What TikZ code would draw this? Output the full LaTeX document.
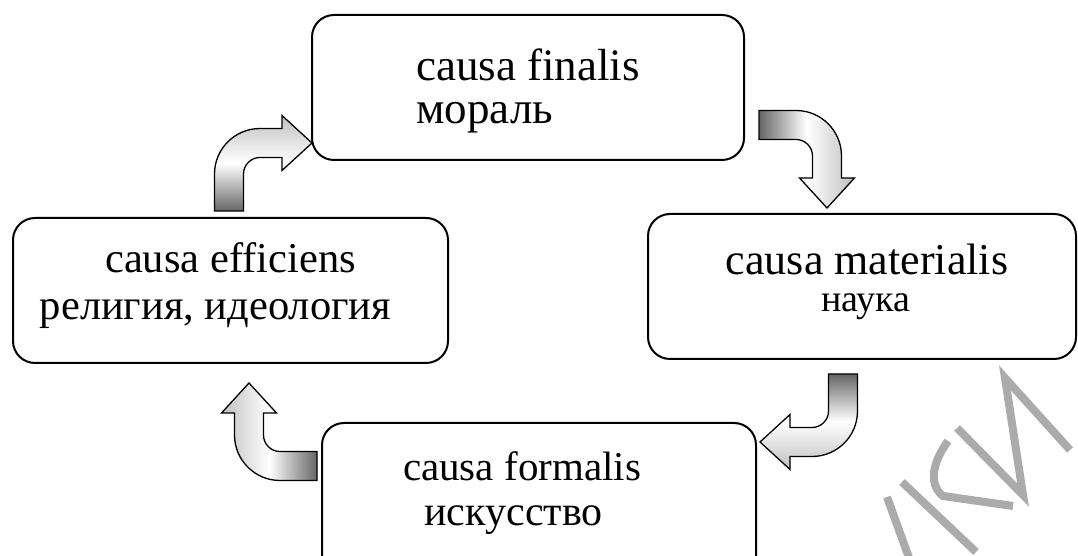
\documentclass[tikz,border=0pt]{standalone}
\usepackage{fontspec}
\setmainfont{Liberation Serif}
\usepackage{tikz}
\usetikzlibrary{positioning}
\definecolor{causeLine}{HTML}{000000}
\definecolor{markGray}{HTML}{ABABAB}
\tikzset{
    causebox/.style={
        draw=causeLine,
        fill=white,
        rectangle,
        rounded corners=22pt,
        align=center,
        minimum height=145pt,
        minimum width=432pt,
        line width=2pt,
        inner sep=0pt,
        font=\fontsize{44}{45}\selectfont
    },
    arrowline/.style={
        draw=causeLine,
        line width=1.3pt,
        top color=black!25,
        bottom color=black!60,
        middle color=white
    },
    arrowturn/.store in=\turnangle,
    arrowturn=0,
    markstroke/.style={
        draw=markGray,
        line width=8pt
    },
    pics/bentarrow/.style={code={
        \draw[arrowline, shading angle=\turnangle]
            (-14.5,0) -- (-14.5,37) arc[start angle=180, end angle=90, radius=45.5]
            -- (53,82.5) -- (53,95.5) -- (83,68) -- (53,40.5) -- (53,53.5)
            -- (31,53.5) arc[start angle=90, end angle=180, radius=16.5]
            -- (14.5,0) -- cycle;
    }}
}
\begin{document}
\begin{tikzpicture}[x=1pt, y=1pt]
    \useasboundingbox (0,0) rectangle (1078,556);
    \clip (0,0) rectangle (1078,556);

    % Causes
    \node[causebox, align=left, font=\fontsize{45}{43}\selectfont] (finalis) at (528,468.5)
        {\rule{0pt}{37.8pt}causa finalis\\мораль};
    \node[causebox, below=56pt of finalis, xshift=-297.5pt, minimum width=435pt, font=\fontsize{42.5}{47}\selectfont] (efficiens)
        {causa efficiens\\религия, идеология\hspace*{30pt}\rule[-18pt]{0pt}{18pt}};
    \node[causebox, below=52pt of finalis, xshift=334pt, minimum width=428pt, font=\fontsize{44}{37}\selectfont] (materialis)
        {\hspace*{10pt}causa materialis\\\hspace*{8pt}{\fontsize{38}{37}\selectfont наука}\rule[-17pt]{0pt}{17pt}};
    \node[causebox, below=62pt of materialis, xshift=-323pt, minimum height=160pt, minimum width=434pt, font=\fontsize{41}{45}\selectfont] (formalis)
        {causa formalis\hspace*{34pt}\\{\fontsize{42}{45}\selectfont искусство}\hspace*{51pt}\rule[-29pt]{0pt}{29pt}};

    % Cycle arrows
    \pic[arrowturn=0] at ([shift={(-1.5,6)}]efficiens.north) {bentarrow};
    \pic[rotate=-90, arrowturn=-90] at ([shift={(14,-37.5)}]finalis.east) {bentarrow};
    \pic[rotate=180, arrowturn=180] at ([shift={(-19,-14)}]materialis.south) {bentarrow};
    \pic[rotate=90, arrowturn=90] at ([shift={(-4,37)}]formalis.west) {bentarrow};

    % Watermark
    \draw[markstroke] (887,59) -- (912,-10);
    \draw[markstroke] (902,74) -- (976,4);
    \draw[markstroke] (948,115) .. controls (930,90) and (930,70) .. (943,60) -- (1013,50);
    \draw[markstroke] (957,128) -- (1023,61) -- (1005,178) -- (1070,106);
\end{tikzpicture}
\end{document}
